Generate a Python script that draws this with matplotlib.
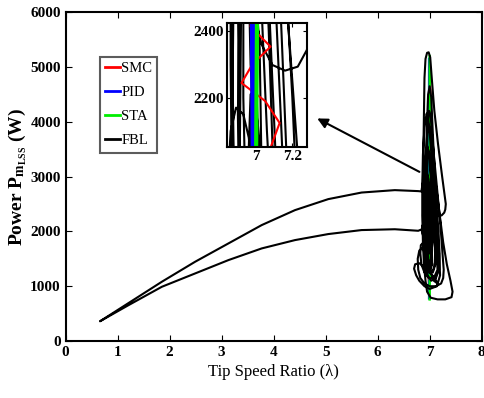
import matplotlib.pyplot as plt

plt.rcParams['font.family'] = ['Liberation Serif', 'DejaVu Serif']
plt.rcParams['mathtext.fontset'] = 'custom'
plt.rcParams['mathtext.rm'] = 'Liberation Serif'
plt.rcParams['mathtext.bf'] = 'Liberation Serif:bold'

# FBL: lower branch (cluster -> start), upper branch (start -> cluster)
lower_x = [6.85, 6.78, 6.33, 5.69, 5.05, 4.41, 3.77, 3.13, 2.49, 1.85, 1.20, 0.66]
lower_y = [2040, 2012, 2040, 2025, 1952, 1842, 1690, 1477, 1234, 990, 650, 360]
upper_x = [0.66, 1.20, 1.85, 2.49, 3.13, 3.77, 4.41, 5.05, 5.69, 6.33, 6.78, 6.84]
upper_y = [360, 688, 1082, 1447, 1782, 2116, 2389, 2590, 2710, 2754, 2736, 2730]
# FBL: loops around lambda = 7
loop_x = [6.87, 6.88, 6.89, 6.90, 6.92, 6.95, 6.98, 7.01, 7.04, 7.09, 7.16, 7.24, 7.29, 7.31,
          7.30, 7.28, 7.23, 7.16, 7.09, 7.03, 6.99, 6.96, 6.95, 6.95, 6.96, 6.99, 7.02, 7.05,
          7.09, 7.14, 7.20, 7.24, 7.27, 7.26, 7.22, 7.12, 7.00, 6.90, 6.82, 6.78, 6.77, 6.80,
          6.86, 6.90,
          6.91, 6.92, 6.93, 6.95, 6.97, 7.00, 7.03, 7.06, 7.10, 7.18, 7.26, 7.33, 7.40, 7.44,
          7.42, 7.30, 7.15, 7.02, 6.95, 6.92, 6.89, 6.87, 6.86, 6.86, 6.87, 6.90, 6.94, 6.97,
          7.00, 7.04, 7.09, 7.14, 7.18, 7.20, 7.14, 7.00, 6.90, 6.80, 6.74, 6.70, 6.72, 6.80,
          6.90, 7.00, 7.10, 7.15,
          7.08, 7.00, 6.95, 6.93, 6.93, 6.94, 6.97, 7.00, 7.03, 7.07, 7.11, 7.14, 7.15, 7.08,
          6.98, 6.90, 6.84, 6.82, 6.83, 6.88, 6.94,
          6.85, 6.86, 6.89, 6.93, 6.96, 6.99, 7.02, 7.03, 7.00, 6.95, 6.93, 6.94, 6.96, 6.97,
          6.99, 7.01, 7.03, 7.05,
          7.03, 6.98, 6.94, 6.91, 6.90, 6.92, 6.95, 6.98, 7.02, 7.06, 7.10, 7.11, 7.06, 6.98,
          6.96, 6.96, 6.98, 7.00, 7.02, 7.03, 7.02, 7.00, 6.99, 7.00,
          6.97, 6.95, 6.94, 6.95, 6.98, 7.02, 7.06, 7.10, 7.14, 7.17, 7.19, 7.18, 7.12, 7.03,
          6.96, 6.91, 6.88, 6.87, 6.88, 6.90, 6.93, 6.96, 6.99, 7.03, 7.07, 7.10, 7.12, 7.07,
          6.99, 6.94, 6.90, 6.88, 6.87, 6.87, 6.89, 6.92, 6.95, 6.98, 7.01, 7.04, 7.05, 6.99,
          6.93, 6.91, 6.90, 6.91, 6.93, 6.96, 6.98, 7.00]
loop_y = [2900, 3500, 4200, 4800, 5150, 5260, 5270, 5180, 4800, 4200, 3600, 3000, 2650, 2500,
          2400, 2343, 2293, 2281, 2298, 2360, 2450, 2700, 3100, 3600, 4000, 4200, 4100, 3700,
          3300, 2800, 2200, 1700, 1300, 1150, 1050, 1000, 1000, 1050, 1150, 1300, 1500, 1650,
          1700, 1650,
          2000, 2600, 3300, 4000, 4500, 4650, 4450, 3800, 3000, 2400, 1800, 1400, 1100, 900,
          800, 760, 760, 790, 900, 1100, 1400, 1800, 2300, 2900, 3400, 3900, 4150, 4100,
          3800, 3300, 2700, 2100, 1600, 1200, 1000, 950, 1000, 1100, 1200, 1320, 1400, 1420,
          1350, 1250, 1150, 1050,
          1100, 1300, 1700, 2200, 2800, 3300, 3500, 3400, 3000, 2500, 2000, 1600, 1300, 1150,
          1150, 1250, 1400, 1600, 1750, 1800, 1700,
          2000, 2100, 2170, 2150, 2080, 1900, 1600, 1350, 1250, 1300, 1500, 1800, 2050, 2210,
          2200, 2120, 2000, 1800,
          1500, 1400, 1600, 2000, 2500, 2900, 3050, 2950, 2600, 2100, 1700, 1400, 1250, 1300,
          1500, 1900, 2300, 2500, 2350, 2000, 1700, 1600, 1800, 2000,
          2300, 2800, 3400, 3800, 3950, 3850, 3400, 2900, 2400, 2000, 1600, 1300, 1150, 1100,
          1200, 1400, 1750, 2200, 2700, 3200, 3500, 3550, 3350, 2900, 2400, 1900, 1500, 1300,
          1250, 1350, 1600, 1900, 2300, 2800, 3100, 3200, 3050, 2600, 2100, 1700, 1400, 1300,
          1450, 1750, 2150, 2500, 2700, 2650, 2350, 2050]

smc_x = [7.00, 6.97, 7.04, 6.95, 7.08, 7.13, 7.05, 6.92, 6.98, 7.08, 6.97,
         7.03, 6.96, 7.02, 7.00]
smc_y = [800, 1300, 1700, 1950, 2050, 2124, 2190, 2244, 2300, 2353, 2413,
         2700, 3300, 4200, 5150]

pid_x = [6.99, 6.99, 6.985, 6.99, 6.99]
pid_y = [780, 2000, 2400, 3500, 5150]

sta_x = [7.00, 7.00, 7.005, 7.00, 7.00]
sta_y = [760, 2000, 2400, 3600, 5200]

fbl_x = lower_x + upper_x + loop_x
fbl_y = lower_y + upper_y + loop_y

fig = plt.figure(figsize=(4.84, 3.98), dpi=100)
ax = fig.add_axes([0.1357, 0.1432, 0.8595, 0.8259])

ax.plot(smc_x, smc_y, color='red', lw=1.5, label='SMC')
ax.plot(pid_x, pid_y, color='blue', lw=1.8, label='PID')
ax.plot(sta_x, sta_y, color='#00ee00', lw=1.8, label='STA')
ax.plot(fbl_x, fbl_y, color='black', lw=1.5, label='FBL')

ax.set_xlim(0, 8)
ax.set_ylim(0, 6000)
ax.set_xticks(range(0, 9))
ax.set_yticks(range(0, 6001, 1000))
ax.tick_params(direction='in', top=True, right=True, labelsize=11, length=4)
for lab in ax.get_xticklabels() + ax.get_yticklabels():
    lab.set_fontweight('bold')
for s in ax.spines.values():
    s.set_linewidth(1.5)
ax.set_xlabel('Tip Speed Ratio (\u03bb)', fontsize=12, labelpad=4)
ax.set_ylabel(r'Power $\mathbf{P_{m_{LSS}}}$ (W)', fontsize=14, fontweight='bold', labelpad=1)

leg = ax.legend(loc='upper left', bbox_to_anchor=(0.083, 0.865), fontsize=10.5,
                handlelength=1.0, handletextpad=0.1, borderpad=0.35, borderaxespad=0,
                labelspacing=0.75, fancybox=False, edgecolor='#333333')
leg.get_frame().set_linewidth(1.5)
for line in leg.get_lines():
    line.set_linewidth(2)

ax.annotate('', xy=(4.79, 4086), xytext=(6.85, 3064),
            arrowprops=dict(arrowstyle='-|>', color='black', lw=1.5, mutation_scale=15))

# zoomed inset, colored lines kept on top of the black loops
ins = fig.add_axes([0.469, 0.6307, 0.165, 0.3116])
ins.plot(fbl_x, fbl_y, color='black', lw=1.5)
ins.plot(smc_x, smc_y, color='red', lw=1.5)
ins.plot(pid_x, pid_y, color='blue', lw=5)
ins.plot(sta_x, sta_y, color='#00ee00', lw=3)
ins.set_xlim(6.84, 7.28)
ins.set_ylim(2052, 2424)
ins.set_xticks([7, 7.2])
ins.set_xticklabels(['7', '7.2'])
ins.set_yticks([2200, 2400])
ins.tick_params(direction='in', top=True, right=True, labelsize=11, length=3, pad=2)
for lab in ins.get_xticklabels() + ins.get_yticklabels():
    lab.set_fontweight('bold')
for s in ins.spines.values():
    s.set_linewidth(1.5)

fig.savefig('out.png', dpi=100)
